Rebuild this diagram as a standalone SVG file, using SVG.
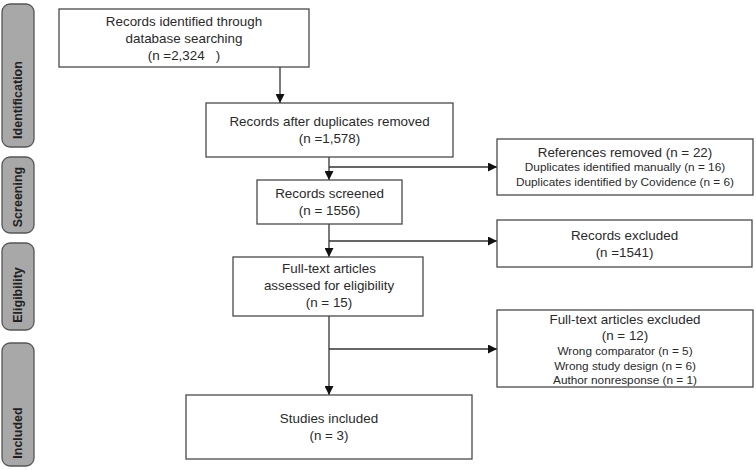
<svg xmlns="http://www.w3.org/2000/svg" width="756" height="470" viewBox="0 0 756 470">
<style>
.box{fill:#fff;stroke:#4a4a4a;stroke-width:1.3}
.side{fill:#a8a8a8;stroke:#555;stroke-width:1.3}
.t{font-family:"Liberation Sans",Arial,sans-serif;font-size:13.4px;fill:#2a2a2a;text-anchor:middle}
.s{font-family:"Liberation Sans",Arial,sans-serif;font-size:11.8px;fill:#2a2a2a;text-anchor:middle}
.lab{font-family:"Liberation Sans",Arial,sans-serif;font-size:12.5px;font-weight:bold;fill:#222;text-anchor:middle}
.c{fill:none;stroke:#333;stroke-width:1.3}
</style>
<defs>
<marker id="ah" viewBox="0 0 10 10" refX="10" refY="5" markerWidth="9" markerHeight="9" markerUnits="userSpaceOnUse" orient="auto">
<path d="M0,0 L10,5 L0,10 Z" fill="#111"/>
</marker>
</defs>
<g id="phase-identification"><rect class="side" x="2" y="4" width="32" height="143" rx="8"/><text class="lab" transform="translate(22,100) rotate(-90)">Identification</text></g>
<g id="phase-screening"><rect class="side" x="2" y="157" width="32" height="76" rx="8"/><text class="lab" transform="translate(22,197) rotate(-90)">Screening</text></g>
<g id="phase-eligibility"><rect class="side" x="2" y="243" width="32" height="87" rx="8"/><text class="lab" transform="translate(22,295) rotate(-90)">Eligibility</text></g>
<g id="phase-included"><rect class="side" x="2" y="343" width="32" height="123" rx="8"/><text class="lab" transform="translate(22,433) rotate(-90)">Included</text></g>

<g id="connectors">
<path class="c" d="M280,67 V103" marker-end="url(#ah)"/>
<path class="c" d="M329,157 V180" marker-end="url(#ah)"/>
<path class="c" d="M329,167 H497" marker-end="url(#ah)"/>
<path class="c" d="M329,224 V257" marker-end="url(#ah)"/>
<path class="c" d="M329,241 H497" marker-end="url(#ah)"/>
<path class="c" d="M329,316 V395" marker-end="url(#ah)"/>
<path class="c" d="M329,349 H497" marker-end="url(#ah)"/>
</g>

<g id="n1"><rect class="box" x="59" y="9" width="250" height="58"/>
<text class="t" x="184" y="26">Records identified through</text>
<text class="t" x="184" y="43">database searching</text>
<text class="t" x="184" y="60" xml:space="preserve">(n =2,324   )</text></g>

<g id="n2"><rect class="box" x="206" y="103" width="247" height="54"/>
<text class="t" x="329.5" y="126">Records after duplicates removed</text>
<text class="t" x="329.5" y="143">(n =1,578)</text></g>

<g id="n3"><rect class="box" x="257" y="180" width="145" height="44"/>
<text class="t" x="329.5" y="198">Records screened</text>
<text class="t" x="329.5" y="215">(n = 1556)</text></g>

<g id="n4"><rect class="box" x="233" y="257" width="190" height="59"/>
<text class="t" x="329" y="273">Full-text articles</text>
<text class="t" x="329" y="290">assessed for eligibility</text>
<text class="t" x="329" y="307">(n = 15)</text></g>

<g id="n5"><rect class="box" x="186" y="395" width="286" height="64"/>
<text class="t" x="329" y="423">Studies included</text>
<text class="t" x="329" y="440">(n = 3)</text></g>

<g id="r1"><rect class="box" x="497" y="139" width="256" height="56"/>
<text class="t" x="625" y="157">References removed (n = 22)</text>
<text class="s" x="625" y="171">Duplicates identified manually (n = 16)</text>
<text class="s" x="625" y="186">Duplicates identified by Covidence (n = 6)</text></g>

<g id="r2"><rect class="box" x="497" y="220" width="255" height="47"/>
<text class="t" x="624.5" y="240">Records excluded</text>
<text class="t" x="624.5" y="257">(n =1541)</text></g>

<g id="r3"><rect class="box" x="497" y="310" width="256" height="77"/>
<text class="t" x="625" y="324">Full-text articles excluded</text>
<text class="t" x="625" y="340">(n = 12)</text>
<text class="s" x="625" y="355">Wrong comparator (n = 5)</text>
<text class="s" x="625" y="370">Wrong study design (n = 6)</text>
<text class="s" x="625" y="384">Author nonresponse (n = 1)</text></g>
</svg>
